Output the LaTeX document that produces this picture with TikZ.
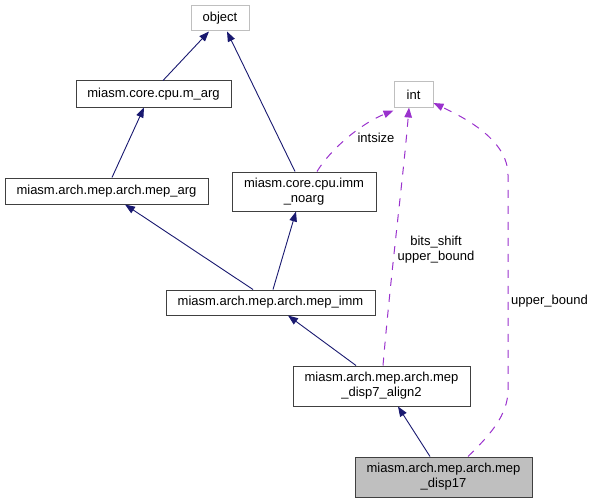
\documentclass[tikz,border=0pt]{standalone}
\usepackage{fontspec}
\setmainfont{Liberation Sans}
\usetikzlibrary{arrows.meta}
\definecolor{edgeblue}{HTML}{191970}
\definecolor{edgeviolet}{HTML}{9A32CD}
\definecolor{boxgray}{HTML}{BFBFBF}
\definecolor{boxdark}{HTML}{404040}

\begin{document}
\begin{tikzpicture}[x=1pt,y=-1pt,
    font=\fontsize{13}{15}\selectfont,
    cls/.style={draw=boxdark, line width=1pt, inner sep=0pt, align=center},
    extcls/.style={draw=boxgray, line width=1pt, inner sep=0pt, align=center},
    inherit/.style={draw=edgeblue, line width=0.9pt, -{Triangle[length=10pt,width=7.5pt]}},
    uses/.style={draw=edgeviolet, line width=1pt, dash pattern=on 8pt off 8pt,
                 -{Triangle[length=10pt,width=7.5pt]}},
    lbl/.style={inner sep=0pt, align=center}]
                \useasboundingbox (0,0) rectangle (592,503);
                \node [extcls, minimum width=58pt, minimum height=25pt] (object) at (220,18.5) {object};
                \node [cls, minimum width=155pt, minimum height=26pt] (marg) at (153.5,94) {miasm.core.cpu.m\_arg};
                \node [cls, minimum width=203pt, minimum height=26pt] (meparg) at (106.5,191) {miasm.arch.mep.arch.mep\_arg};
                \node [cls, minimum width=144pt, minimum height=39pt] (immnoarg) at (304,191.5) {miasm.core.cpu.imm\\\_noarg};
                \node [extcls, minimum width=39pt, minimum height=25pt] (int) at (413.5,94.5) {int};
                \node [cls, minimum width=209pt, minimum height=25pt] (mepimm) at (270.5,302.5) {miasm.arch.mep.arch.mep\_imm};
                \node [cls, minimum width=177pt, minimum height=40pt] (disp7) at (381.5,386) {miasm.arch.mep.arch.mep\\\_disp7\_align2};
                \node [cls, fill=boxgray, minimum width=177pt, minimum height=40pt] (disp17) at (443.5,477) {miasm.arch.mep.arch.mep\\\_disp17};
                \draw [inherit] ([xshift=9.5pt]marg.north) -- ([xshift=-11pt]object.south);
                \draw [inherit] ([xshift=-9pt]immnoarg.north) -- ([xshift=7pt]object.south);
                \draw [inherit] ([xshift=5.5pt]meparg.north) -- ([xshift=-9.5pt]marg.south);
                \draw [inherit] ([xshift=-17.5pt]mepimm.north) -- ([xshift=18.5pt]meparg.south);
                \draw [inherit] ([xshift=2.5pt]mepimm.north) -- ([xshift=-8pt]immnoarg.south);
                \draw [inherit] ([xshift=-25.5pt]disp7.north) -- ([xshift=17.5pt]mepimm.south);
                \draw [inherit] ([xshift=-13.5pt]disp17.north) -- ([xshift=16.5pt]disp7.south);
                \draw [uses] ([xshift=13pt]immnoarg.north) .. controls (330,150) and (360,124) .. ([yshift=-3pt]int.south west);
                \draw [uses] ([xshift=1.5pt]disp7.north) .. controls (392,262) and (403,180) .. ([xshift=-4.5pt]int.south);
                \draw [uses] ([xshift=24.5pt]disp17.north) .. controls (490,435) and (508,415) .. (508,390)
                    -- (508,175) .. controls (508,140) and (465,118) .. ([yshift=-8.5pt]int.east);
                \node [lbl] (lintsize) at (376,138) {intsize};
                \node [lbl] (lshift) at (436,249.5) {bits\_shift\\upper\_bound};
                \node [lbl] (lbound) at (549.5,301) {upper\_bound};
            \end{tikzpicture}
\end{document}
